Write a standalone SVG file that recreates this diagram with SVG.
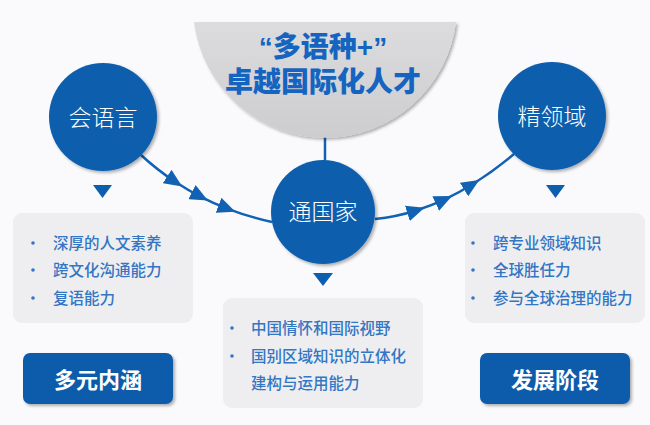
<svg xmlns="http://www.w3.org/2000/svg" width="650" height="425" viewBox="0 0 650 425">
  <defs>
    <filter id="sh" x="-20%" y="-20%" width="140%" height="140%">
      <feDropShadow dx="2" dy="2" stdDeviation="1.5" flood-color="#000" flood-opacity="0.3"/>
    </filter>
    <marker id="arr" viewBox="0 0 18 16" markerWidth="18" markerHeight="16" refX="10" refY="8" orient="auto" markerUnits="userSpaceOnUse">
      <path d="M0,0 L18,8 L0,16 Z" fill="#1262b3"/>
    </marker>
    <linearGradient id="gray" x1="0" y1="0" x2="0" y2="1">
      <stop offset="0" stop-color="#dcdcde"/>
      <stop offset="1" stop-color="#cdcdcf"/>
    </linearGradient>
  </defs>
  <style>
    .circ { fill: #0c5fae; filter: url(#sh); }
    .clabel { font-family: "Noto Sans CJK SC", sans-serif; font-size: 23px; font-weight: 300; fill: #ffffff; text-anchor: middle; }
    .box { fill: #eeeef1; }
    .item { font-family: "Noto Sans CJK SC", sans-serif; font-size: 15.5px; font-weight: 500; fill: #3276c4; }
    .dot { fill: #3276c4; }
    .btn { fill: #0b5cab; filter: url(#sh); }
    .btext { font-family: "Noto Sans CJK SC", sans-serif; font-size: 22px; font-weight: bold; fill: #ffffff; text-anchor: middle; }
    .tri { fill: #0c5fae; }
    .conn { fill: none; stroke: #1262b3; stroke-width: 2.5; }
    .title { font-family: "Liberation Sans", "Noto Sans CJK SC", sans-serif; font-size: 28px; font-weight: 900; fill: #1565c0; text-anchor: middle; }
  </style>
  <rect width="650" height="425" fill="#fafafc"/>

  <g id="connectors">
    <line class="conn" x1="325" y1="136" x2="325" y2="163"/>
    <path class="conn" marker-mid="url(#arr)" d="M141,155 Q157.2,170 175.5,182 Q187.7,190 200.8,196.8 Q213.9,203.5 227.9,208.8 Q248.9,216.9 272,222"/>
    <path class="conn" marker-mid="url(#arr)" d="M375,219 Q396,216.9 416.9,210.2 Q430.8,205.7 444.8,199.3 Q458.7,192.8 472.5,184.2 Q493.3,171.4 514,154"/>
  </g>

  <g id="goal">
    <path d="M194,22 L456,22 A132,132 0 0 1 194,22 Z" fill="url(#gray)" filter="url(#sh)"/>
    <text class="title" x="323" y="57">“多语种+”</text>
    <text class="title" x="323" y="92">卓越国际化人才</text>
  </g>

  <g id="language">
    <circle class="circ" cx="103" cy="117" r="54"/>
    <text class="clabel" x="103" y="126">会语言</text>
    <path class="tri" d="M93,185 L112,185 L102.5,198 Z"/>
  </g>

  <g id="country">
    <circle class="circ" cx="323" cy="212" r="52"/>
    <text class="clabel" x="323" y="220">通国家</text>
    <path class="tri" d="M313,273 L333,273 L323,286 Z"/>
  </g>

  <g id="field">
    <circle class="circ" cx="552" cy="116" r="54"/>
    <text class="clabel" x="552" y="125">精领域</text>
    <path class="tri" d="M546,185 L565,185 L555.5,198 Z"/>
  </g>

  <g id="list-left">
    <rect class="box" x="13" y="213" width="180" height="110" rx="9"/>
    <circle class="dot" cx="33" cy="243" r="1.8"/>
    <circle class="dot" cx="33" cy="270" r="1.8"/>
    <circle class="dot" cx="33" cy="298" r="1.8"/>
    <text class="item" x="53" y="249">深厚的人文素养</text>
    <text class="item" x="53" y="276">跨文化沟通能力</text>
    <text class="item" x="53" y="304">复语能力</text>
  </g>

  <g id="list-middle">
    <rect class="box" x="223" y="298" width="200" height="110" rx="9"/>
    <circle class="dot" cx="232" cy="328" r="1.8"/>
    <circle class="dot" cx="232" cy="356" r="1.8"/>
    <text class="item" x="251" y="334">中国情怀和国际视野</text>
    <text class="item" x="251" y="362">国别区域知识的立体化</text>
    <text class="item" x="251" y="389">建构与运用能力</text>
  </g>

  <g id="list-right">
    <rect class="box" x="465" y="213" width="180" height="110" rx="9"/>
    <circle class="dot" cx="473" cy="243" r="1.8"/>
    <circle class="dot" cx="473" cy="270" r="1.8"/>
    <circle class="dot" cx="473" cy="298" r="1.8"/>
    <text class="item" x="493" y="249">跨专业领域知识</text>
    <text class="item" x="493" y="276">全球胜任力</text>
    <text class="item" x="493" y="304">参与全球治理的能力</text>
  </g>

  <g id="btn-left">
    <rect class="btn" x="23" y="353" width="150" height="51" rx="7"/>
    <text class="btext" x="98" y="388">多元内涵</text>
  </g>

  <g id="btn-right">
    <rect class="btn" x="480" y="353" width="150" height="51" rx="7"/>
    <text class="btext" x="555" y="388">发展阶段</text>
  </g>
</svg>
